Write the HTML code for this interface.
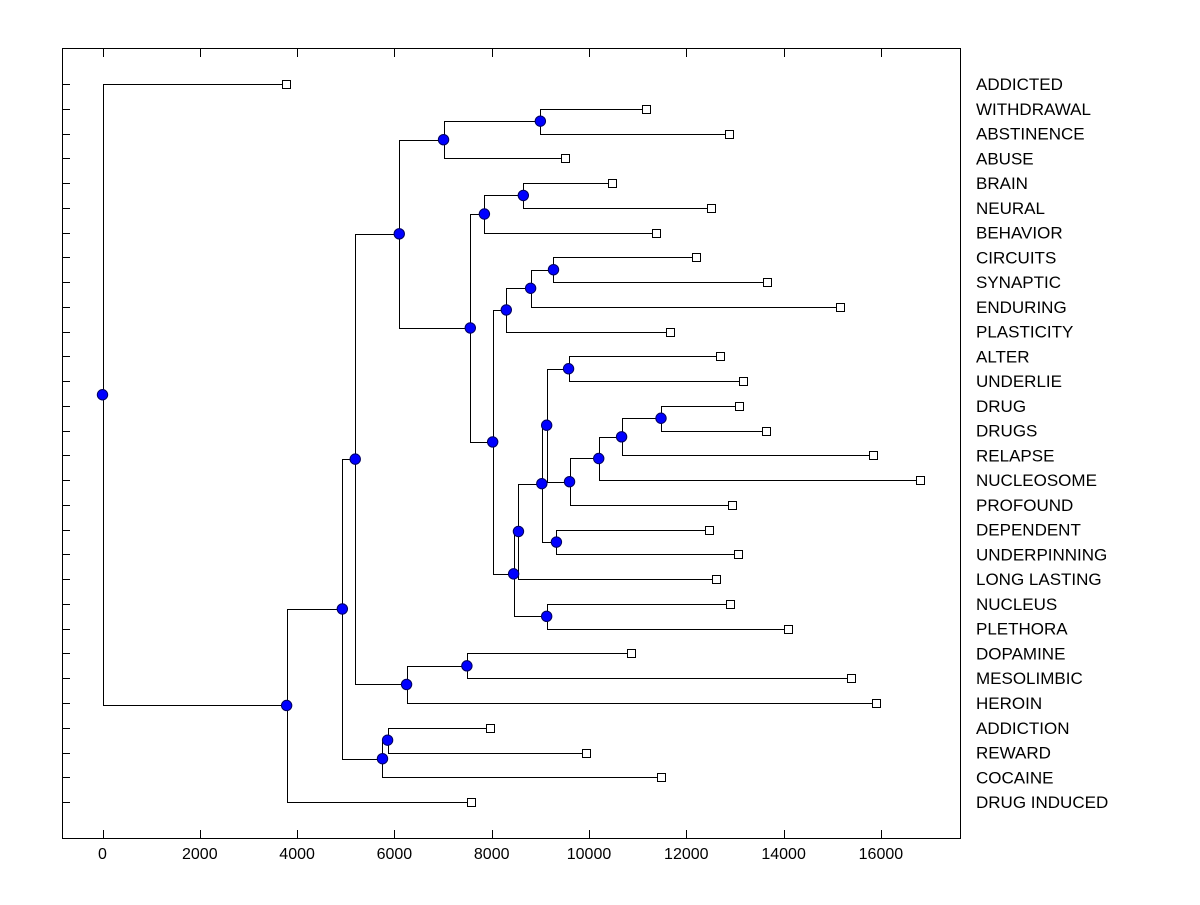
<!DOCTYPE html>
<html><head><meta charset="utf-8"><style>
body{margin:0;background:#fff;}
svg text{font-family:"Liberation Sans",Arial,sans-serif;font-size:16px;fill:#000;}
svg text.lbl{font-size:17px;}
</style></head><body>
<svg id="chart" width="1200" height="900" xmlns="http://www.w3.org/2000/svg">
<rect x="0" y="0" width="1200" height="900" fill="#fff"/>
<rect x="62.5" y="48.5" width="898" height="790" fill="none" stroke="#000" stroke-width="1"/>
<g id="axes"></g><g id="links"></g><g id="marks"></g>
</svg>
<script>
// Leaf labels (top to bottom) and their leaf distances
const leafNames = ["ADDICTED","WITHDRAWAL","ABSTINENCE","ABUSE","BRAIN","NEURAL","BEHAVIOR","CIRCUITS","SYNAPTIC","ENDURING","PLASTICITY","ALTER","UNDERLIE","DRUG","DRUGS","RELAPSE","NUCLEOSOME","PROFOUND","DEPENDENT","UNDERPINNING","LONG LASTING","NUCLEUS","PLETHORA","DOPAMINE","MESOLIMBIC","HEROIN","ADDICTION","REWARD","COCAINE","DRUG INDUCED"];
const leafValues = [3775,11180,12870,9500,10480,12500,11370,12190,13650,15150,11660,12690,13160,13080,13630,15830,16800,12930,12460,13060,12620,12890,14100,10870,15380,15890,7970,9930,11470,7580];
// Internal nodes: [id, height, childA, childB]; children are leaf indices (numbers) or node ids (strings)
const nodes = [
 ["AB",11480,13,14],["AA",10670,"AB",15],["Z",10200,"AA",16],["Y",9600,"Z",17],
 ["X",9580,11,12],["V",9130,"X","Y"],["W",9330,18,19],["U",9030,"V","W"],
 ["S",8550,"U",20],["T",9130,21,22],["P",8450,"S","T"],
 ["R",9270,7,8],["Q",8800,"R",9],["O",8300,"Q",10],["M",8020,"O","P"],
 ["N",8650,4,5],["L",7850,"N",6],["J",7560,"L","M"],
 ["K",9000,1,2],["I",7010,"K",3],["F",6100,"I","J"],
 ["H",7490,23,24],["G",6250,"H",25],["C",5195,"F","G"],
 ["E",5860,26,27],["D",5755,"E",28],["B",4930,"C","D"],
 ["A",3785,"B",29],["ROOT",0,0,"A"]
];
const xTicks = [0,2000,4000,6000,8000,10000,12000,14000,16000];

const NS="http://www.w3.org/2000/svg";
const X = v => 102.5 + v*0.04865;
const Y = i => 84 + i*24.76;
function mk(tag, attrs, parent){const e=document.createElementNS(NS,tag);for(const k in attrs)e.setAttribute(k,attrs[k]);document.getElementById(parent).appendChild(e);return e;}

xTicks.forEach(t=>{
  const x=Math.round(X(t))+0.5;
  const a=mk("line",{x1:x,x2:x,y1:838,y2:830,stroke:"#000"},"axes");
  
  
  const b=mk("line",{x1:x,x2:x,y1:49,y2:57,stroke:"#000"},"axes");
  
  
  const tx=mk("text",{x:X(t),y:859,"text-anchor":"middle"},"axes");
  tx.textContent=t;
  
  
});
leafNames.forEach((n,i)=>{
  const y=Math.round(Y(i))+0.5;
  const t=mk("line",{x1:62,x2:70,y1:y,y2:y,stroke:"#000"},"axes");
  
  
  const tx=mk("text",{x:976,y:Y(i)+6,"class":"lbl"},"axes");
  tx.textContent=n;
  
  
});

const pos={};
function getPos(c){ if(typeof c==="number") return {x:X(leafValues[c]),y:Y(c),leaf:true}; return pos[c]; }
nodes.forEach(([id,h,a,b])=>{
  const pa=getPos(a), pb=getPos(b), x=X(h), y=(pa.y+pb.y)/2;
  pos[id]={x,y};
  const r=v=>Math.round(v)+0.5;
  const l=mk("path",{d:`M${r(pa.x)},${r(pa.y)}H${r(x)}V${r(pb.y)}H${r(pb.x)}`,fill:"none",stroke:"#000","stroke-width":1},"links");
  
  
});
leafValues.forEach((v,i)=>{
  const s=mk("rect",{x:Math.round(X(v))-3.5,y:Math.round(Y(i))-3.5,width:8,height:8,fill:"#fff",stroke:"#000"},"marks");
  
  
});
nodes.forEach(([id])=>{
  const c=mk("circle",{cx:pos[id].x,cy:pos[id].y,r:5.2,fill:"#0000ff",stroke:"#000060","stroke-width":1},"marks");
  
  
});
</script>
</body></html>
